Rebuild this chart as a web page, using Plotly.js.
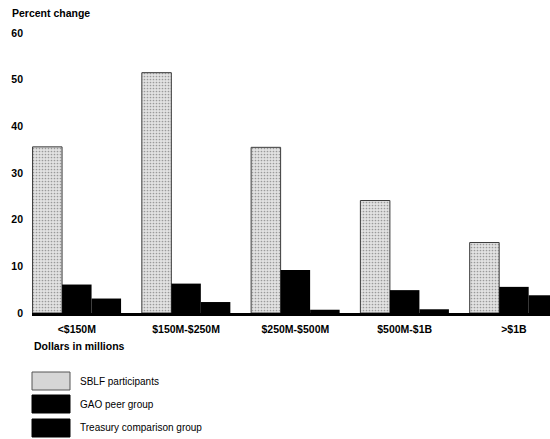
<!DOCTYPE html>
<html>
<head>
<meta charset="utf-8">
<script src="https://cdn.plot.ly/plotly-3.0.1.min.js"></script>
<style>html,body{margin:0;padding:0;background:#fff;}#chart{width:550px;height:439px;}</style>
</head>
<body>
<div id="chart"></div>
<script>
const categories = ['<$150M', '$150M-$250M', '$250M-$500M', '$500M-$1B', '>$1B'];
const seriesNames = ['SBLF participants', 'GAO peer group', 'Treasury comparison group'];
const sblf = [35.6, 51.5, 35.5, 24.1, 15.1];
const gao = [6.1, 6.3, 9.2, 4.9, 5.6];
const treasury = [3.1, 2.35, 0.7, 0.8, 3.8];
const yTicks = [0, 10, 20, 30, 40, 50, 60];

const W = 550, H = 439;
const m = {l: 32, r: 0, t: 33, b: 126};
const pw = W - m.l - m.r, ph = H - m.t - m.b;
const px = x => (x - m.l) / pw;
const py = y => (H - m.b - y) / ph;

const font = 'Liberation Sans, Arial, sans-serif';

const traces = [
  {type: 'bar', name: seriesNames[0], x: categories, y: sblf,
   marker: {color: '#dadada', line: {color: '#3a3a3a', width: 1},
            pattern: {shape: '.', fgcolor: '#9a9a9a', bgcolor: '#e2e2e2', size: 3, solidity: 0.25}}},
  {type: 'bar', name: seriesNames[1], x: categories, y: gao,
   marker: {color: '#000', line: {width: 0}}},
  {type: 'bar', name: seriesNames[2], x: categories, y: treasury,
   marker: {color: '#000', line: {width: 0}}}
];

const legendFills = ['#d6d6d6', '#000', '#000'];
const boxTops = [372, 395, 419];
const shapes = [];
const annotations = [];
seriesNames.forEach((n, i) => {
  shapes.push({type: 'rect', xref: 'paper', yref: 'paper',
    x0: px(32), x1: px(70), y0: py(boxTops[i]), y1: py(boxTops[i] + 18),
    fillcolor: legendFills[i], line: {color: i === 0 ? '#555' : '#000', width: 1}});
  annotations.push({xref: 'paper', yref: 'paper', x: px(78), y: py(boxTops[i] + 9),
    xanchor: 'left', yanchor: 'middle', text: n, showarrow: false,
    font: {family: font, size: 10, color: '#000'}});
});
annotations.push({xref: 'paper', yref: 'paper', x: px(10), y: py(13), xanchor: 'left', yanchor: 'middle',
  text: '<b>Percent change</b>', showarrow: false, font: {family: font, size: 10.5, color: '#000'}});
annotations.push({xref: 'paper', yref: 'paper', x: px(32), y: py(346), xanchor: 'left', yanchor: 'middle',
  text: '<b>Dollars in millions</b>', showarrow: false, font: {family: font, size: 10.5, color: '#000'}});

const layout = {
  width: W, height: H, margin: m,
  paper_bgcolor: '#fff', plot_bgcolor: '#fff',
  showlegend: false,
  barmode: 'group', bargap: 0.19, bargroupgap: 0,
  xaxis: {range: [-0.41, 4.33], showgrid: false, zeroline: false, showline: true,
          linecolor: '#000', linewidth: 3, ticks: '', fixedrange: true, ticklabelstandoff: 4,
          tickfont: {family: font, size: 10.5, color: '#000'}},
  yaxis: {range: [0, 60], tickvals: yTicks, ticktext: yTicks.map(v => '<b>' + v + '</b>'),
          showgrid: false, zeroline: false, showline: false, ticks: '', ticklabelstandoff: 8,
          tickfont: {family: font, size: 10.5, color: '#000'}},
  shapes: shapes, annotations: annotations
};
layout.xaxis.tickvals = categories;
layout.xaxis.ticktext = categories.map(c => '<b>' + c + '</b>');

Plotly.newPlot('chart', traces, layout, {displayModeBar: false, staticPlot: true});
</script>
</body>
</html>
